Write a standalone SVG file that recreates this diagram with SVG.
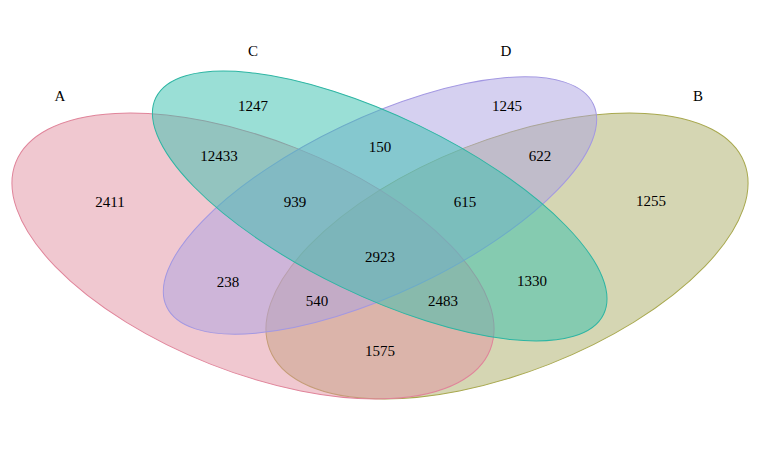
<svg xmlns="http://www.w3.org/2000/svg" width="760" height="450" viewBox="0 0 760 450">
<style>
text{font-family:"Liberation Serif","Times New Roman",serif;font-size:15px;fill:#000;text-anchor:middle}
ellipse{fill-opacity:0.5;stroke-width:1}
</style>
<rect width="760" height="450" fill="#fff"/>
<g id="set-B">
<ellipse cx="507" cy="256" rx="255" ry="116.2" transform="rotate(-21.5 507 256)" fill="#ABAD67" stroke="#A8A84E"/>
<text x="698" y="101">B</text>
</g>
<g id="set-A">
<ellipse cx="253" cy="256" rx="255" ry="116.2" transform="rotate(21.5 253 256)" fill="#E191A1" stroke="#E0849A"/>
<text x="60" y="101">A</text>
</g>
<g id="set-D">
<ellipse cx="380" cy="205.5" rx="236.2" ry="87.8" transform="rotate(-25.4 380 205.5)" fill="#ABA1E1" stroke="#A398E2"/>
<text x="506" y="56">D</text>
</g>
<g id="set-C">
<ellipse cx="379.7" cy="206" rx="248.7" ry="89.6" transform="rotate(25.8 379.7 206)" fill="#35BFAD" stroke="#2DB5A3"/>
<text x="253" y="56">C</text>
</g>
<g id="counts">
<text x="253" y="111">1247</text>
<text x="507" y="111">1245</text>
<text x="219" y="161">12433</text>
<text x="380" y="152">150</text>
<text x="540" y="161">622</text>
<text x="110" y="207">2411</text>
<text x="295" y="207">939</text>
<text x="465" y="207">615</text>
<text x="651" y="206">1255</text>
<text x="380" y="262">2923</text>
<text x="228" y="287">238</text>
<text x="532" y="286">1330</text>
<text x="317" y="306">540</text>
<text x="443" y="306">2483</text>
<text x="380" y="356">1575</text>
</g>
</svg>
